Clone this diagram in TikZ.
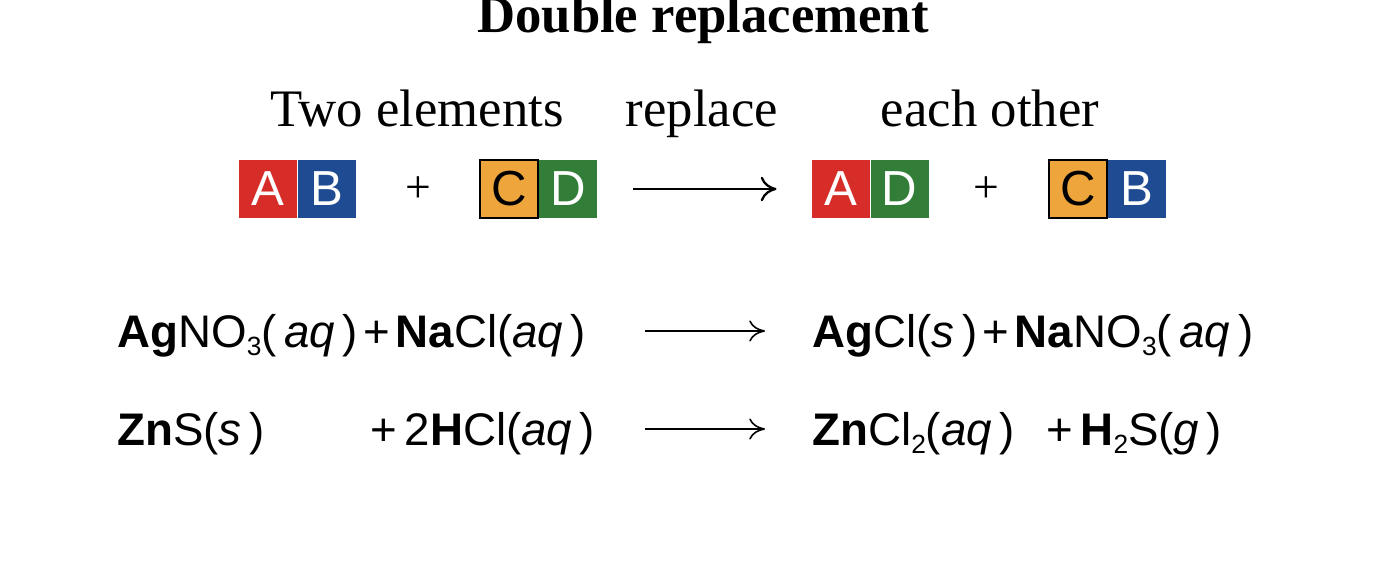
\documentclass[tikz,border=0pt]{standalone}
\usepackage{fontspec}
\setmainfont{Liberation Serif}
\setsansfont{Liberation Sans}
\usepackage{xcolor}
\definecolor{boxred}{RGB}{214,45,40}
\definecolor{boxblue}{RGB}{30,75,145}
\definecolor{boxorange}{RGB}{238,165,60}
\definecolor{boxgreen}{RGB}{50,125,55}
\usetikzlibrary{arrows.meta, positioning}

\newcommand{\sub}[1]{\raisebox{-0.35ex}{\fontsize{15}{15}\selectfont #1}}
\newcommand{\pl}{\hspace{0.12em}+\hspace{0.12em}}
\tikzset{
  elem/.style={minimum width=1.16cm, minimum height=1.16cm, inner sep=0pt,
    font=\sffamily\fontsize{28}{28}\selectfont, text=white},
  caption/.style={anchor=base, font=\fontsize{30}{30}\selectfont},
  eqn/.style={anchor=base west, inner sep=0pt, font=\sffamily\fontsize{26}{26}\selectfont},
  plus/.style={font=\fontsize{26}{26}\selectfont},
  rxn/.style={-{To[length=9pt,width=12pt]}, line width=0.9pt}
}

\begin{document}
\begin{tikzpicture}[x=0.02cm, y=-0.02cm]
  \useasboundingbox (0,0) rectangle (1374,568);
  \node[font=\bfseries\fontsize{30}{30}\selectfont] (title) at (703,20) {Double replacement};
  \node[caption] (two) at (417,126) {Two elements};
  \node[caption] (rep) at (702,126) {replace};
  \node[caption] (each) at (990,126) {each other};

  % boxes
  \node[elem, fill=boxred] (a1) at (268,189) {A};
  \node[elem, fill=boxblue, right=0pt of a1] (b1) {B};
  \node[plus] (p1) at (418,190) {+};
  \node[elem, fill=boxorange, draw=black, line width=1.2pt, text=black] (c1) at (509,189) {C};
  \node[elem, fill=boxgreen, right=0pt of c1] (d1) {D};
  \node[elem, fill=boxred] (a2) at (841,189) {A};
  \node[elem, fill=boxgreen, right=0pt of a2] (d2) {D};
  \node[plus] (p2) at (986,190) {+};
  \node[elem, fill=boxorange, draw=black, line width=1.2pt, text=black] (c2) at (1078,189) {C};
  \node[elem, fill=boxblue, right=0pt of c2] (b2) {B};
  \draw[-{To[length=9pt,width=14pt]}, line width=1.3pt] ([xshift=20pt]d1.east) -- ([xshift=-20pt]a2.west);

  % equations
  \node[eqn] (r1) at (117,347) {\textbf{Ag}NO\sub{3}(\,\textit{aq}\,)\pl\textbf{Na}Cl(\textit{aq}\,)};
  \node[eqn] (s1) at (812,347) {\textbf{Ag}Cl(\textit{s}\,)\pl\textbf{Na}NO\sub{3}(\,\textit{aq}\,)};
  \node[eqn] (r2) at (117,445) {\textbf{Zn}S(\textit{s}\,)};
  \node[eqn] (r2b) at (370,445) {+\,2\textbf{H}Cl(\textit{aq}\,)};
  \node[eqn] (s2) at (812,445) {\textbf{Zn}Cl\sub{2}(\textit{aq}\,)};
  \node[eqn] (s2b) at (1046,445) {+\,\textbf{H}\sub{2}S(\textit{g}\,)};
  \coordinate (e1a) at (645,331); \coordinate (e1b) at (765,331);
  \coordinate (e2a) at (645,429); \coordinate (e2b) at (765,429);
  \draw[rxn] (e1a) -- (e1b);
  \draw[rxn] (e2a) -- (e2b);
\end{tikzpicture}
\end{document}
